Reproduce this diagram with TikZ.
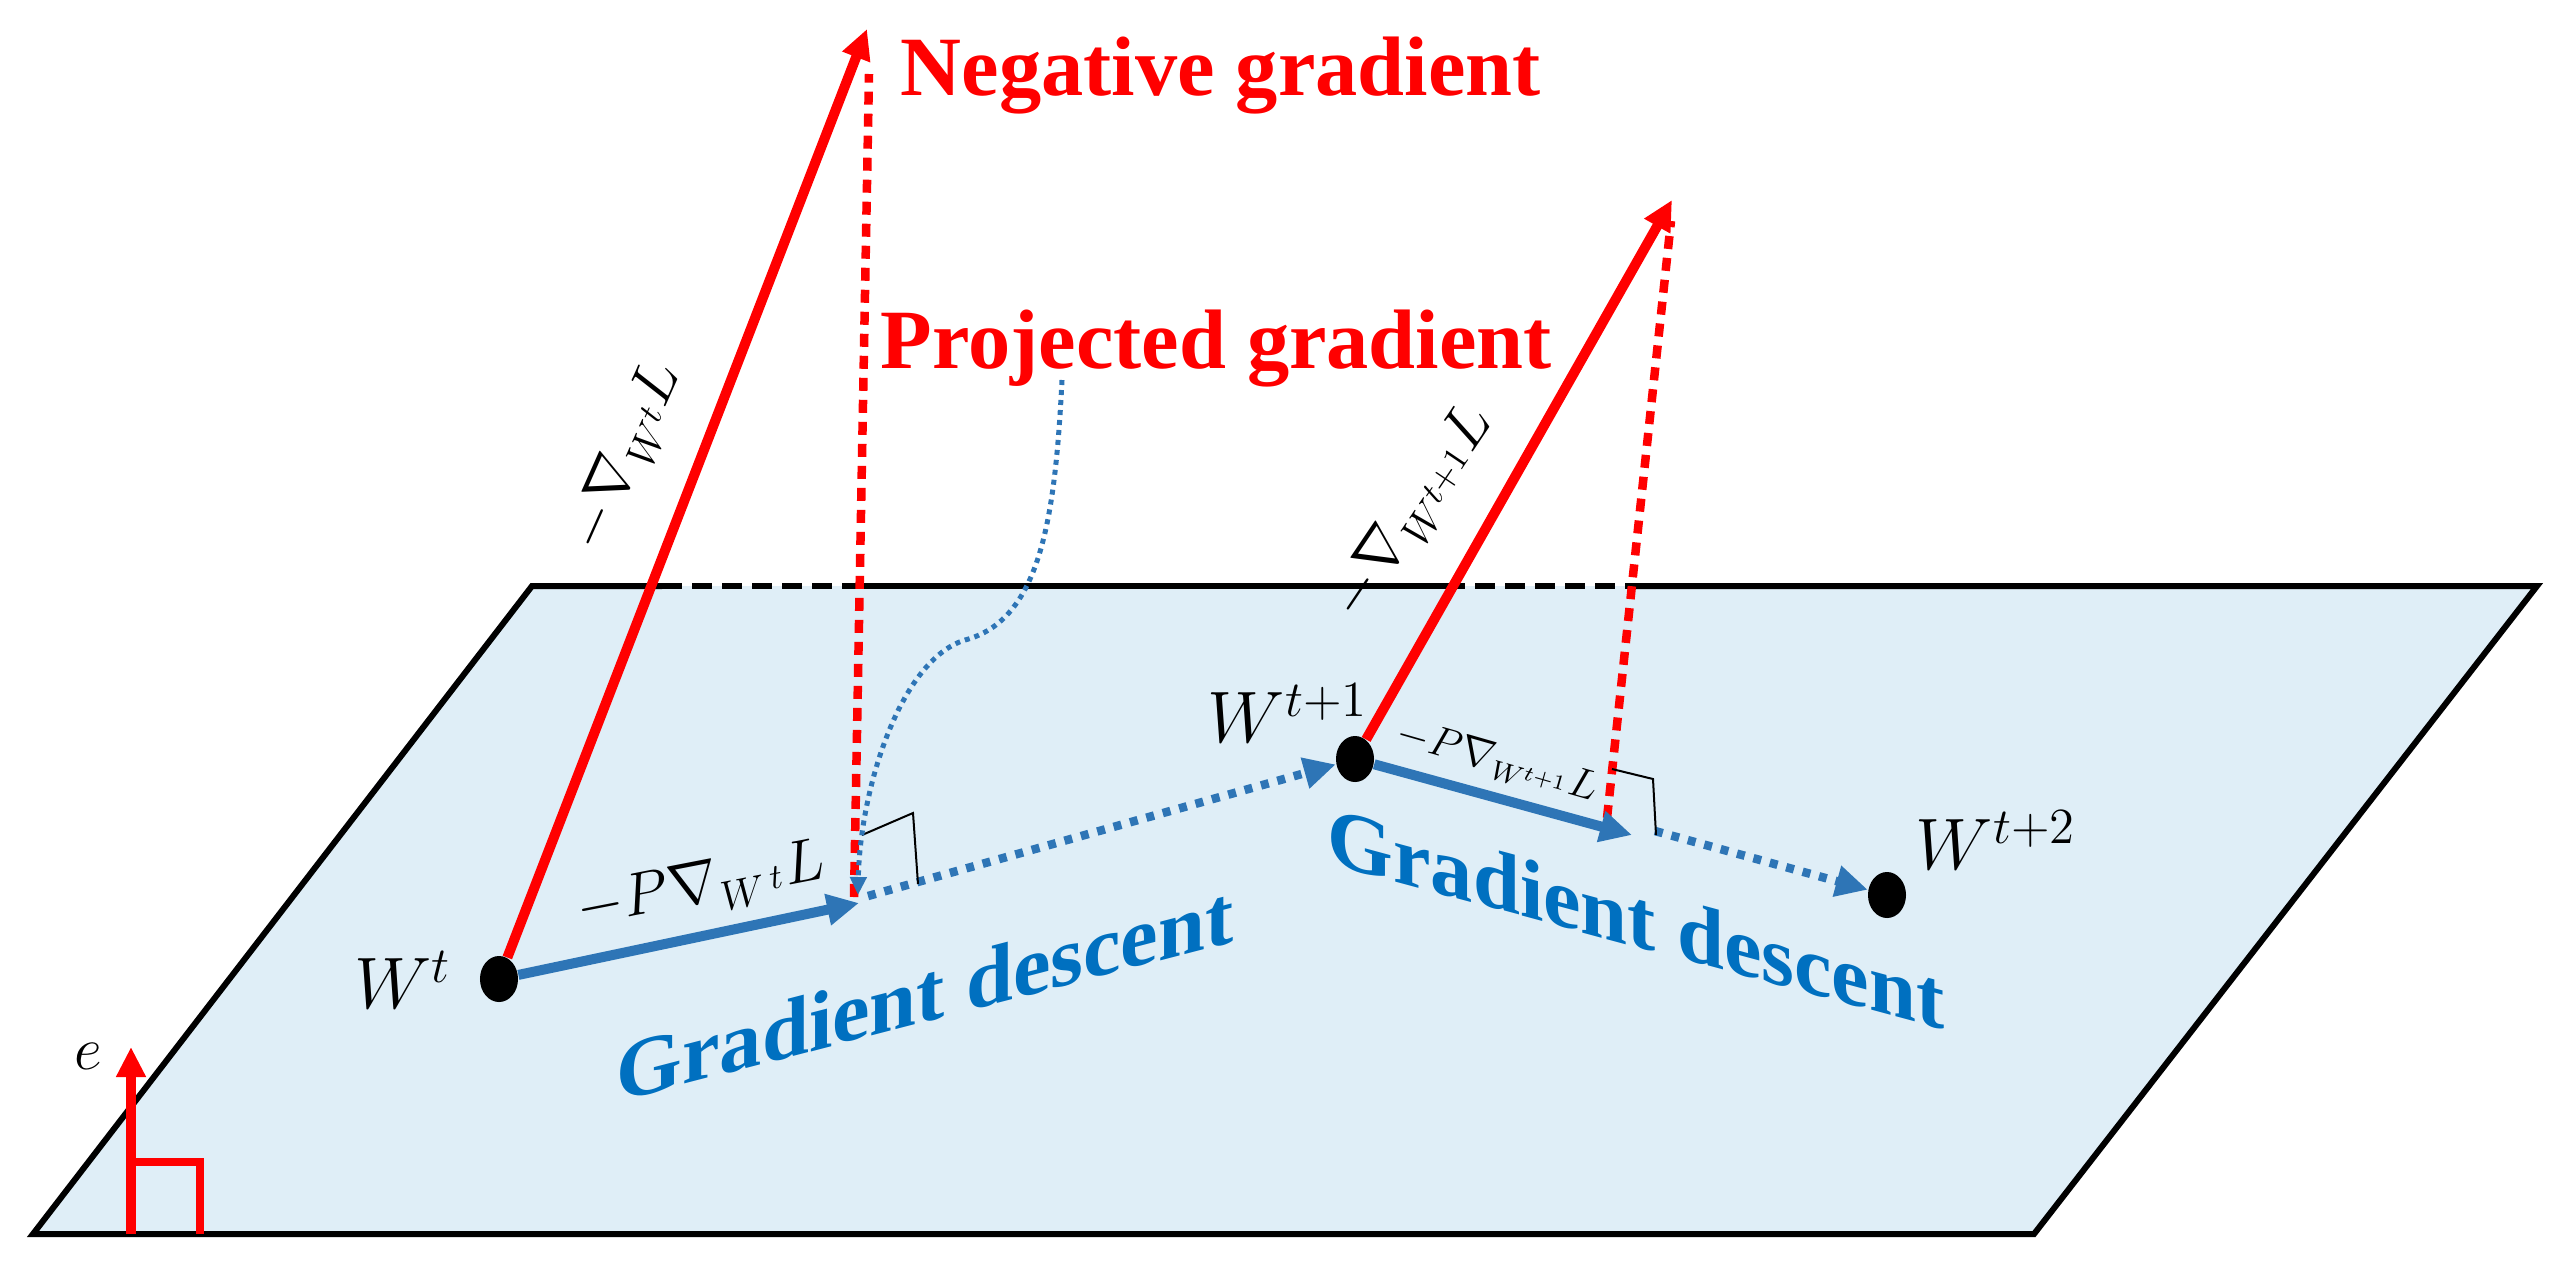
\documentclass[tikz,border=0pt]{standalone}
\usepackage{fontspec}
\setmainfont{Liberation Serif}
\usepackage{amsmath}
\usepackage{tikz}
\usetikzlibrary{shapes.geometric, arrows.meta, positioning}
\usepackage{xcolor}
\definecolor{planeBlue}{RGB}{223,238,247}
\definecolor{arrowBlue}{RGB}{46,117,182}
\definecolor{textBlue}{RGB}{0,112,192}
\definecolor{gradRed}{RGB}{255,0,0}

\begin{document}
\begin{tikzpicture}[x=0.01cm, y=-0.01cm,
  point/.style={ellipse, fill=black, inner sep=0pt, minimum width=0.38cm, minimum height=0.46cm},
  edge/.style={draw=black, line width=0.06cm},
  redarr/.style={draw=gradRed, line width=0.1cm, -{Triangle[length=0.3cm, width=0.28cm]}},
  reddot/.style={draw=gradRed, line width=0.085cm, dash pattern=on 0.13cm off 0.09cm},
  bluearr/.style={draw=arrowBlue, line width=0.1cm, -{Triangle[length=0.32cm, width=0.3cm]}},
  bluedot/.style={draw=arrowBlue, line width=0.085cm, dash pattern=on 0.08cm off 0.09cm, -{Triangle[length=0.32cm, width=0.3cm]}},
  corner/.style={draw=black, line width=0.02cm},
  redlabel/.style={text=gradRed, font=\fontsize{24}{28}\selectfont\bfseries, inner sep=0pt, anchor=base west},
  bluelabel/.style={text=textBlue, font=\fontsize{24}{28}\selectfont\bfseries, inner sep=0pt, transform shape},
  symb/.style={font=\huge, inner sep=0pt}
]
  \useasboundingbox (0,0) rectangle (2566,1275);

  % plane
  \coordinate (TL) at (532,586);
  \coordinate (TR) at (2537,586);
  \coordinate (BR) at (2034,1234);
  \coordinate (BL) at (33,1234);
  \fill[planeBlue] (TL) -- (TR) -- (BR) -- (BL) -- cycle;
  \coordinate (D1) at (662,586);
  \coordinate (D2) at (860,586);
  \coordinate (D3) at (1445,586);
  \coordinate (D4) at (1632,586);
  \draw[edge] (D4) -- (TR) -- (BR) -- (BL) -- (TL) -- (D1);
  \draw[edge] (D2) -- (D3);
  \foreach \a/\b in {D1/D2, D3/D4}
    \draw[edge, dash pattern=on 0.2cm off 0.1cm] (\a) -- (\b);

  % points
  \node[point] (Wt)  at (499,979) {};
  \node[point] (Wt1) at (1355,759) {};
  \node[point] (Wt2) at (1887,895) {};

  \coordinate (negA)  at (867,29);
  \coordinate (negB)  at (1672,200);
  \coordinate (projA) at (859,903);
  \coordinate (projB) at (1632,835);
  \coordinate (footA) at (854,897);
  \coordinate (topA)  at (869,74);
  \coordinate (footB) at (1607,818);
  \coordinate (topB)  at (1671,221);

  % gradients
  \foreach \a/\b in {footA/topA, footB/topB}
    \draw[reddot] (\a) -- (\b);
  \draw[redarr] (Wt) -- (negA);
  \draw[redarr] (Wt1) -- (negB);

  % descent steps
  \draw[bluearr] (Wt) -- (projA);
  \draw[bluearr] (Wt1) -- (projB);
  \coordinate (goA) at (868,896);
  \coordinate (goB) at (1655,831);
  \draw[bluedot] (goA) -- (Wt1);
  \draw[bluedot] (goB) -- (Wt2);

  % right angles
  \coordinate (c1) at (862,835);
  \coordinate (c2) at (913,813);
  \coordinate (c3) at (918,884);
  \coordinate (c4) at (1612,769);
  \coordinate (c5) at (1653,779);
  \coordinate (c6) at (1656,835);
  \draw[corner] (c1) -- (c2) -- (c3);
  \draw[corner] (c4) -- (c5) -- (c6);

  % normal
  \coordinate (eA) at (131,1234);
  \coordinate (eB) at (131,1047);
  \coordinate (eC) at (131,1162);
  \coordinate (eD) at (200,1162);
  \coordinate (eE) at (200,1234);
  \draw[redarr, line width=0.09cm] (eA) -- (eB);
  \draw[draw=gradRed, line width=0.08cm] (eC) -- (eD) -- (eE);

  % texts
  \node[redlabel] (negLabel)  at (900,95)  {Negative gradient};
  \node[redlabel] (projLabel) at (880,368) {Projected gradient};
  \node[bluelabel, yslant=0.26]  (descA) at (925,993) {Gradient descent};
  \node[bluelabel, yslant=-0.27] (descB) at (1636,918) {Gradient descent};

  \coordinate (curveEnd) at (858,895);
  \draw[draw=arrowBlue, line width=0.05cm, dash pattern=on 0.05cm off 0.05cm,
        -{Triangle[length=0.18cm, width=0.16cm]}]
    (1062,380) .. controls (1055,520) and (1040,620) .. (965,640)
    .. controls (900,660) and (860,790) .. (curveEnd);

  \node[symb] (lWt)  at (403,980) {$W^{t}$};
  \node[symb] (lWt1) at (1288,713) {$W^{t+1}$};
  \node[symb] (lWt2) at (1996,840) {$W^{t+2}$};
  \node[symb, font=\LARGE] (lE) at (88,1056) {$e$};
  \node[symb, rotate=66, font=\LARGE] (lNegA) at (627,458) {$-\nabla_{W^{t}}L$};
  \node[symb, rotate=56, font=\LARGE] (lNegB) at (1414,514) {$-\nabla_{W^{t+1}}L$};
  \node[symb, rotate=11, font=\LARGE]  (lProjA) at (701,888) {$-P\nabla_{W^{\,t}}L$};
  \node[symb, rotate=-16, font=\large] (lProjB) at (1497,762) {$-P\nabla_{W^{t+1}}L$};
\end{tikzpicture}
\end{document}
